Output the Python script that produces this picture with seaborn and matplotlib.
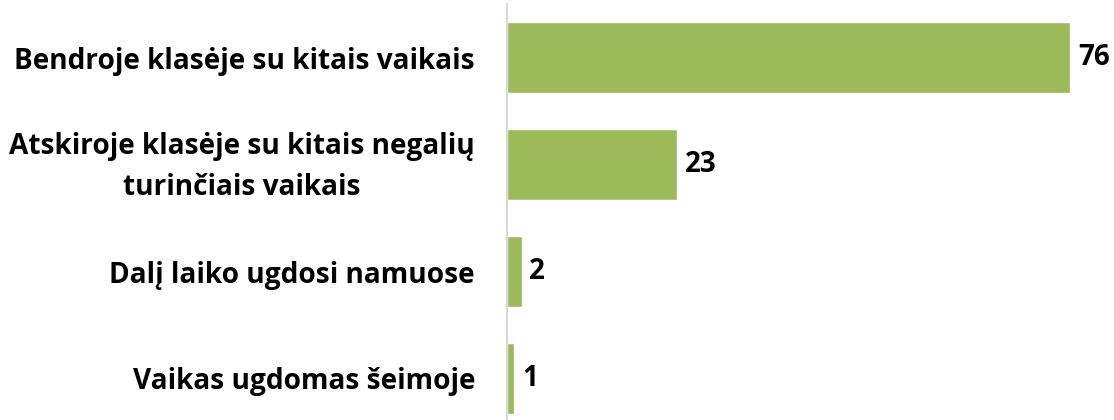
import pandas as pd
import matplotlib.pyplot as plt
import matplotlib.transforms as mtransforms
import seaborn as sns

# Duomenys
categories = ['Bendroje klasėje su kitais vaikais',
              'Atskiroje klasėje su kitais negalių\nturinčiais vaikais',
              'Dalį laiko ugdosi namuose',
              'Vaikas ugdomas šeimoje']
values = [76, 23, 2, 1]

df = pd.DataFrame({'category': categories, 'value': values})

sns.set_style('white')
plt.rcParams['font.family'] = ['Open Sans', 'DejaVu Sans']

fig = plt.figure(figsize=(11.14, 4.2), dpi=100)
ax = fig.add_axes([507 / 1114, 1 - 432 / 420, 593 / 1114, 428 / 420])

sns.barplot(data=df, x='value', y='category', color='#9BBB59', width=0.664,
            saturation=1, ax=ax)

ax.set_xlim(0, 80)
ax.set_xlabel('')
ax.set_ylabel('')
ax.set_xticks([])
for s in ['top', 'right', 'bottom']:
    ax.spines[s].set_visible(False)
ax.spines['left'].set_color('#D9D9D9')
ax.spines['left'].set_linewidth(1.5)

ax.tick_params(axis='y', length=0, pad=23)
for lbl in ax.get_yticklabels():
    lbl.set_fontsize(20.2)
    lbl.set_fontweight('bold')
    lbl.set_color('black')
    lbl.set_multialignment('center')
    lbl.set_linespacing(1.55)
    if '\n' in lbl.get_text():
        # dvieilė etiketė šiek tiek aukštėliau
        lbl.set_transform(lbl.get_transform() +
                          mtransforms.ScaledTranslation(0, 0.07, fig.dpi_scale_trans))

for i, v in enumerate(values):
    ax.text(v + 1.0, i, str(v), va='center', ha='left', fontsize=20,
            fontweight='bold', color='black')

plt.savefig('out.png', dpi=100)
